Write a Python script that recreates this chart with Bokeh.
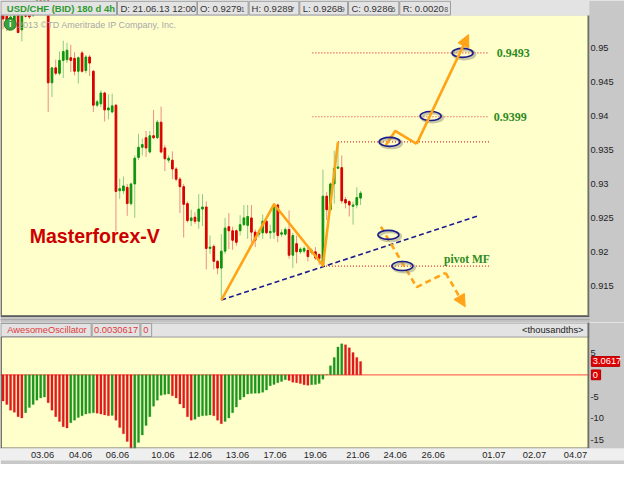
import numpy as np
from bokeh.plotting import figure
from bokeh.models import (Range1d, LinearAxis, FixedTicker, Arrow, NormalHead,
                          ColumnDataSource)
from bokeh.layouts import column
from bokeh.core.properties import value
from bokeh.embed import file_html
from bokeh.resources import INLINE

# ---------------- data (USD/CHF 4h candles) ----------------
open_px = [0.9549, 0.9547, 0.9540, 0.9535, 0.9549, 0.9527, 0.9552, 0.9550, 0.9548, 0.9565,
           0.9575, 0.9565, 0.9580, 0.9449, 0.9471, 0.9463, 0.9482, 0.9483, 0.9486, 0.9485,
           0.9466, 0.9493, 0.9467, 0.9487, 0.9466, 0.9416, 0.9418, 0.9434, 0.9409, 0.9406,
           0.9416, 0.9290, 0.9290, 0.9295, 0.9271, 0.9300, 0.9339, 0.9354, 0.9368, 0.9347,
           0.9371, 0.9368, 0.9391, 0.9353, 0.9335, 0.9335, 0.9322, 0.9307, 0.9296, 0.9271,
           0.9246, 0.9251, 0.9245, 0.9263, 0.9266, 0.9205, 0.9208, 0.9186, 0.9176, 0.9201,
           0.9237, 0.9231, 0.9231, 0.9231, 0.9240, 0.9239, 0.9250, 0.9229, 0.9226, 0.9228,
           0.9245, 0.9228, 0.9229, 0.9269, 0.9226, 0.9226, 0.9233, 0.9195, 0.9212, 0.9200,
           0.9201, 0.9202, 0.9199, 0.9200, 0.9196, 0.9181, 0.9282, 0.9262, 0.9300, 0.9323,
           0.9324, 0.9277, 0.9274, 0.9267, 0.9269, 0.92791]
high_px = [0.9551, 0.9550, 0.9549, 0.9552, 0.9556, 0.9550, 0.9560, 0.9558, 0.9570, 0.9580,
           0.9582, 0.9585, 0.9585, 0.9472, 0.9483, 0.9495, 0.9511, 0.9508, 0.9505, 0.9494,
           0.9488, 0.9496, 0.9490, 0.9490, 0.9468, 0.9424, 0.9438, 0.9436, 0.9432, 0.9433,
           0.9418, 0.9308, 0.9311, 0.9300, 0.9302, 0.9342, 0.9374, 0.9367, 0.9378, 0.9378,
           0.9409, 0.9394, 0.9414, 0.9357, 0.9342, 0.9348, 0.9325, 0.9310, 0.9300, 0.9274,
           0.9262, 0.9258, 0.9285, 0.9285, 0.9274, 0.9224, 0.9211, 0.9188, 0.9226, 0.9250,
           0.9257, 0.9237, 0.9233, 0.9254, 0.9269, 0.9269, 0.9269, 0.9233, 0.9233, 0.9255,
           0.9250, 0.9240, 0.9270, 0.9271, 0.9233, 0.9236, 0.9261, 0.9228, 0.9224, 0.9207,
           0.9208, 0.9209, 0.9205, 0.9207, 0.9198, 0.9321, 0.9288, 0.9302, 0.9349, 0.9362,
           0.9342, 0.9281, 0.9276, 0.9274, 0.9295, 0.92897]
low_px = [0.9528, 0.9525, 0.9535, 0.9530, 0.9522, 0.9510, 0.9545, 0.9543, 0.9546, 0.9560,
          0.9560, 0.9562, 0.9406, 0.9428, 0.9460, 0.9460, 0.9456, 0.9478, 0.9465, 0.9460,
          0.9448, 0.9464, 0.9463, 0.9459, 0.9406, 0.9413, 0.9413, 0.9392, 0.9395, 0.9404,
          0.9230, 0.9278, 0.9285, 0.9253, 0.9268, 0.9250, 0.9335, 0.9342, 0.9340, 0.9345,
          0.9366, 0.9366, 0.9345, 0.9319, 0.9331, 0.9307, 0.9304, 0.9257, 0.9221, 0.9243,
          0.9238, 0.9241, 0.9234, 0.9238, 0.9174, 0.9197, 0.9174, 0.9167, 0.9129, 0.9197,
          0.9204, 0.9203, 0.9209, 0.9224, 0.9238, 0.9219, 0.9214, 0.9207, 0.9221, 0.9219,
          0.9226, 0.9219, 0.9219, 0.9214, 0.9222, 0.9224, 0.9190, 0.9176, 0.9183, 0.9197,
          0.9198, 0.9186, 0.9196, 0.9188, 0.9181, 0.9180, 0.9247, 0.9260, 0.9271, 0.9322,
          0.9271, 0.9264, 0.9252, 0.9240, 0.9264, 0.92689]
close_px = [0.9543, 0.9540, 0.9546, 0.9548, 0.9523, 0.9548, 0.9547, 0.9546, 0.9565, 0.9575,
            0.9565, 0.9580, 0.9449, 0.9471, 0.9463, 0.9482, 0.9495, 0.9497, 0.9482, 0.9466,
            0.9486, 0.9466, 0.9487, 0.9478, 0.9416, 0.9421, 0.9434, 0.9409, 0.9412, 0.9415,
            0.9289, 0.9293, 0.9297, 0.9271, 0.9300, 0.9338, 0.9354, 0.9358, 0.9353, 0.9371,
            0.9368, 0.9391, 0.9347, 0.9337, 0.9338, 0.9322, 0.9307, 0.9296, 0.9270, 0.9246,
            0.9250, 0.9245, 0.9263, 0.9266, 0.9205, 0.9207, 0.9186, 0.9176, 0.9201, 0.9235,
            0.9231, 0.9217, 0.9214, 0.9240, 0.9250, 0.9252, 0.9229, 0.9217, 0.9229, 0.9245,
            0.9228, 0.9230, 0.9269, 0.9224, 0.9228, 0.9233, 0.9195, 0.9224, 0.9200, 0.9204,
            0.9205, 0.9193, 0.9202, 0.9191, 0.9190, 0.9282, 0.9262, 0.9300, 0.9323, 0.9325,
            0.9275, 0.9272, 0.9269, 0.9269, 0.9280, 0.92865]

# Awesome Oscillator, in thousandths
ao_values = [-6.0, -6.8, -8.1, -8.6, -9.6, -9.9, -8.7, -7.5, -6.8, -5.8,
             -5.3, -5.1, -6.4, -8.1, -9.6, -10.7, -11.9, -12.2, -11.0, -10.4,
             -9.8, -9.4, -9.0, -8.8, -8.7, -8.8, -9.0, -9.2, -9.4, -9.3,
             -10.4, -12.1, -13.5, -15.3, -17.5, -17.0, -15.5, -13.8, -11.6, -9.6,
             -7.2, -5.8, -4.7, -4.5, -4.4, -4.8, -5.3, -6.7, -7.6, -9.6,
             -10.4, -10.2, -9.6, -9.4, -9.3, -9.2, -9.4, -10.4, -11.2, -10.7,
             -9.9, -8.7, -7.4, -5.7, -5.1, -4.4, -4.3, -4.25, -4.2, -4.0,
             -3.5, -2.5, -2.2, -1.8, -1.5, -1.1, -1.3, -1.7, -1.8, -2.0,
             -2.3, -2.4, -2.3, -2.2, -2.0, -1.0, 0.1, 2.1, 4.0, 6.4,
             7.1, 6.9, 6.2, 5.1, 4.0, 3.0617]

price_ticks = [0.95, 0.945, 0.94, 0.935, 0.93, 0.925, 0.92, 0.915]
price_tick_labels = ["0.95", "0.945", "0.94", "0.935", "0.93", "0.925", "0.92", "0.915"]
ao_ticks = [5, -5, -10, -15]          # the 0 tick is covered by the red "0" tag
ao_tick_labels = ["5", "-5", "-10", "-15"]
date_ticks = [10.5, 20.6, 30.4, 42.5, 52.4, 62.3, 72.3, 83.0, 94.3, 104.2, 114.3, 130.4, 141.2, 152.1]
date_labels = ["03.06", "04.06", "06.06", "10.06", "12.06", "13.06", "17.06", "19.06",
               "21.06", "24.06", "26.06", "01.07", "02.07", "04.07"]

# analysis drawing (bar index, price)
target_levels = [0.9493, 0.9399]
target_labels = ["0.9493", "0.9399"]
breakout_level = 0.9362
pivot_level = 0.9179
wave_bars = [58, 72, 85, 89]
up_path_x = [101.7, 104.2, 109.9, 123.7]
up_path_y = [0.9357, 0.9378, 0.9359, 0.9520]
down_path_x = [100.4, 109.9, 117.6, 122.8]
down_path_y = [0.9237, 0.9148, 0.9169, 0.9119]
trend_end_x, trend_end_y = 126.3, 0.9253
mark_x = [102.7, 113.6, 122.1, 102.4, 106.1]
mark_y = [0.9362, 0.9400, 0.9493, 0.9225, 0.9179]

# ---------------- styling ----------------
YELLOW = "#FFFFCC"
GRAY_BORDER = "#C8C8C8"
HEAD_GRAY = "#E3E3E3"
BOX_LINE = "#9C9C9C"
RED_BODY, RED_WICK = "#D80000", "#EE8C84"
GREEN_BODY, GREEN_WICK = "#0E940E", "#8CCB84"
AO_RED, AO_GREEN = "#DE1A1A", "#1E951E"
ORANGE = "#FFA317"
NAVY = "#1C1C8E"
DOT_RED = "#E03030"
LABEL_GREEN = "#2E8B22"
FONT = value("Liberation Sans")
SERIF = value("Liberation Serif")
SCALE_COL = "#1E1E1E"

W = 624
H1 = 322
H2 = 142
BB = 16
# reference geometry: bar i is drawn at 2.6 + 3.86*i px of a 640 px wide chart
x_range = Range1d(-2.6 / 3.86, (640 - 2.6) / 3.86)

p1 = figure(width=W, height=H1, x_range=x_range, y_range=Range1d(0.909587, 0.957023),
            output_backend="svg", toolbar_location=None,
            x_axis_location=None, y_axis_location=None, min_border=0,
            background_fill_color=GRAY_BORDER, border_fill_color=GRAY_BORDER,
            outline_line_color=None)
p1.extra_x_ranges = {"px": Range1d(0, 640)}
p1.extra_y_ranges = {"py": Range1d(333, 0)}
p1.grid.grid_line_color = None
PX = dict(x_range_name="px", y_range_name="py")

# yellow chart area
p1.quad(left=[0], right=[604], top=[15.5], bottom=[325.5], fill_color=YELLOW, line_color=None, **PX)

# candles
idx = np.arange(len(open_px))
o = np.array(open_px); c = np.array(close_px)
rise = c >= o
csrc = ColumnDataSource(dict(
    x=idx, h=high_px, l=low_px,
    top=np.maximum(o, c), bot=np.minimum(o, c),
    body=np.where(rise, GREEN_BODY, RED_BODY),
    wick=np.where(rise, GREEN_WICK, RED_WICK)))
p1.segment(x0="x", y0="l", x1="x", y1="h", source=csrc, line_color="wick", line_width=1)
p1.vbar(x="x", top="top", bottom="bot", width=0.45, source=csrc,
        fill_color="body", line_color="body", line_width=1)

# level lines
lvl_y = target_levels + [breakout_level, pivot_level]
lvl_x0 = [82.2, 82.2, wave_bars[3], wave_bars[2]]
p1.segment(x0=lvl_x0, x1=[129.2] * 4, y0=lvl_y, y1=lvl_y,
           line_color=DOT_RED, line_width=1.2, line_dash="1 2")

# trend line
p1.line([wave_bars[0], trend_end_x], [low_px[wave_bars[0]], trend_end_y],
        line_color=NAVY, line_width=1.6, line_dash="5 3")

# wave
wave_y = [low_px[wave_bars[0]], high_px[wave_bars[1]], low_px[wave_bars[2]], high_px[wave_bars[3]]]
p1.line(wave_bars, wave_y, line_color=ORANGE, line_width=2.6, line_join="round")

# forecast paths
p1.line(up_path_x[:-1], up_path_y[:-1], line_color=ORANGE, line_width=2.6, line_join="round")
p1.add_layout(Arrow(x_start=up_path_x[-2], y_start=up_path_y[-2], x_end=up_path_x[-1], y_end=up_path_y[-1],
                    line_color=ORANGE, line_width=2.6,
                    end=NormalHead(size=12, fill_color=ORANGE, line_color=ORANGE)))
p1.line(down_path_x[:-1], down_path_y[:-1], line_color=ORANGE, line_width=2.6, line_dash="6 4")
p1.add_layout(Arrow(x_start=down_path_x[-2], y_start=down_path_y[-2], x_end=down_path_x[-1], y_end=down_path_y[-1],
                    line_color=ORANGE, line_width=2.6, line_dash="6 4",
                    end=NormalHead(size=12, fill_color=ORANGE, line_color=ORANGE)))

# marker ellipses with a soft shadow
p1.ellipse(x=[v + 0.45 for v in mark_x], y=[v - 0.00022 for v in mark_y], width=21, height=9,
           width_units="screen", height_units="screen", fill_color=None,
           line_color="#9A9A80", line_alpha=0.55, line_width=3)
p1.ellipse(x=mark_x, y=mark_y, width=21, height=9, width_units="screen", height_units="screen",
           fill_color=None, line_color=NAVY, line_width=1.6)

# level labels
p1.text(x=[131.2, 130.4], y=target_levels, text=target_labels, text_font=SERIF,
        text_font_style="bold", text_font_size="12px", text_color=LABEL_GREEN, text_baseline="middle")
p1.text(x=[117.2], y=[0.9190], text=["pivot MF"], text_font=SERIF,
        text_font_style="bold", text_font_size="11.5px", text_color=LABEL_GREEN, text_baseline="middle")
p1.text(x=[7.1], y=[0.9224], text=["Masterforex-V"], text_font=FONT, text_font_style="bold",
        text_font_size="19.5px", text_color="#CC0000", text_baseline="middle")

# price scale in the grey margin (positioned by the price scale)
p1.text(x=[605] * len(price_ticks), y=price_ticks, text=price_tick_labels, text_font=FONT,
        text_font_size="9.3px", text_color=SCALE_COL, text_baseline="middle", x_range_name="px")

# ---- chart frame decorations (reference pixel space) ----
p1.text(x=[18], y=[25.5], text=["2013 \u00a9TD Ameritrade IP Company, Inc."], text_font=FONT,
        text_font_size="9px", text_color="#A8A8A8", text_baseline="middle", **PX)
p1.scatter(x=[10], y=[24.5], size=12, marker="circle", fill_color="#3CA03C", line_color="#2A7A2A", **PX)
p1.text(x=[10], y=[24.5], text=["i"], text_font=FONT, text_font_style="bold", text_font_size="9px",
        text_color="white", text_align="center", text_baseline="middle", **PX)

p1.quad(left=[0], right=[604], top=[0], bottom=[15.5], fill_color=HEAD_GRAY, line_color=None, **PX)
box_l = [0.5, 120, 202, 255, 307, 357, 409.5]
box_r = [119, 201.5, 254, 306, 356, 408.5, 461.5]
p1.quad(left=box_l, right=box_r, top=[0.8] * 7, bottom=[15] * 7, fill_color=None,
        line_color=BOX_LINE, line_width=1, **PX)

def split5(v):
    s = f"{v:.5f}"
    return s[:-1], s[-1]

last = len(open_px) - 1
heads = [("O", open_px[last]), ("H", high_px[last]), ("L", low_px[last]), ("C", close_px[last]),
         ("R", high_px[last] - low_px[last])]
head_x = [204.5, 257.5, 310, 360, 412.5]
sub_x = [246.5, 297.5, 349, 401, 455]
p1.text(x=[6.5], y=[7.8], text=["USD/CHF (BID) 180 d 4h"], text_font=FONT, text_font_style="bold",
        text_font_size="9.5px", text_color="#2E9A2E", text_baseline="middle", **PX)
p1.text(x=[123], y=[7.8], text=["D: 21.06.13 12:00"], text_font=FONT,
        text_font_size="9.5px", text_color="#333333", text_baseline="middle", **PX)
p1.text(x=head_x, y=[7.8] * 5, text=[f"{k}: {split5(v)[0]}" for k, v in heads], text_font=FONT,
        text_font_size="9.5px", text_color="#333333", text_baseline="middle", **PX)
p1.text(x=sub_x, y=[9.0] * 5, text=[split5(v)[1] for k, v in heads], text_font=FONT,
        text_font_size="7px", text_color="#555555", text_baseline="middle", **PX)
p1.quad(left=[0], right=[1.3], top=[15.5], bottom=[325.5], fill_color="#4A4A4A", line_color=None, **PX)
p1.quad(left=[602], right=[604], top=[15.5], bottom=[325.5], fill_color="#6E6E6E", line_color=None, **PX)
p1.quad(left=[0], right=[604], top=[325.5], bottom=[327.2], fill_color="#5C5C5C", line_color=None, **PX)
p1.quad(left=[0], right=[604], top=[327.2], bottom=[333], fill_color="#C4C4C4", line_color=None, **PX)
p1.segment(x0=[0], x1=[604], y0=[330], y1=[330], line_color="#8C8C8C", line_dash="1 1", **PX)

# ---------------- oscillator panel ----------------
p2 = figure(width=W, height=H2, x_range=x_range, y_range=Range1d(-16.889, 12.0),
            output_backend="svg", toolbar_location=None,
            x_axis_location=None, y_axis_location=None,
            min_border=0, min_border_bottom=BB,
            background_fill_color=GRAY_BORDER, border_fill_color=GRAY_BORDER,
            outline_line_color=None)
p2.extra_x_ranges = {"px": Range1d(0, 640)}
p2.extra_y_ranges = {"py": Range1d(463, 333)}
p2.grid.grid_line_color = None
PX2 = dict(x_range_name="px", y_range_name="py")

xax2 = LinearAxis(ticker=FixedTicker(ticks=date_ticks),
                  major_label_overrides=dict(zip(date_ticks, date_labels)))
xax2.axis_line_color = None
xax2.major_tick_line_color = None
xax2.minor_tick_line_color = None
xax2.major_tick_out = 0
xax2.major_tick_in = 0
xax2.minor_tick_out = 0
xax2.major_label_standoff = 3
xax2.major_label_text_font = "Liberation Sans"
xax2.major_label_text_font_size = "9.3px"
xax2.major_label_text_color = SCALE_COL
try:
    xax2.background_fill_color = "#EFEFEF"
except Exception:
    pass
p2.add_layout(xax2, "below")

# yellow panel + zero line
p2.quad(left=[0], right=[604], top=[348], bottom=[463], fill_color=YELLOW, line_color=None, **PX2)
p2.segment(x0=[0], x1=[604], y0=[0], y1=[0], x_range_name="px",
           line_color="#FF6A5A", line_width=1.4)

ao = np.array(ao_values)
ao_rise = np.r_[False, ao[1:] > ao[:-1]]
asrc = ColumnDataSource(dict(x=np.arange(len(ao)), top=ao,
                             color=np.where(ao_rise, AO_GREEN, AO_RED)))
p2.vbar(x="x", top="top", bottom=0, width=0.58, source=asrc, fill_color="color",
        line_color="color", line_alpha=0.3, line_width=0.8)

p2.quad(left=[0], right=[604], top=[333], bottom=[348], fill_color=HEAD_GRAY, line_color=None, **PX2)
p2.segment(x0=[0, 0], x1=[604, 604], y0=[333.5, 348], y1=[333.5, 348], line_color=BOX_LINE, **PX2)
p2.quad(left=[0.5, 94, 144], right=[93, 143, 155], top=[334] * 3, bottom=[347.5] * 3,
        fill_color=None, line_color=BOX_LINE, **PX2)
p2.text(x=[7, 96, 146.5], y=[341] * 3, text=["AwesomeOscillator", f"{ao_values[-1] / 1000:.7f}", "0"],
        text_font=FONT, text_font_size="9.3px", text_color="#E03A3A", text_baseline="middle", **PX2)
p2.text(x=[598], y=[341], text=["<thousandths>"], text_font=FONT, text_font_size="9.3px",
        text_color="#222222", text_baseline="middle", text_align="right", **PX2)
p2.quad(left=[0], right=[1.3], top=[348], bottom=[463], fill_color="#4A4A4A", line_color=None, **PX2)
p2.quad(left=[602], right=[604], top=[333], bottom=[463], fill_color="#6E6E6E", line_color=None, **PX2)
p2.quad(left=[0], right=[604], top=[462], bottom=[463], fill_color="#6E6E6E", line_color=None, **PX2)

# oscillator scale labels in the grey margin, placed by the oscillator's y scale
p2.text(x=[605] * len(ao_ticks), y=ao_ticks, text=ao_tick_labels, text_font=FONT,
        text_font_size="9.3px", text_color=SCALE_COL, text_baseline="middle", x_range_name="px")

# value tags in the right margin: last AO value and zero
tag_vals = [ao_values[-1], 0.0]
tag_text = [f"{ao_values[-1]:.4f}", "0"]
p2.quad(left=[606, 606], right=[635, 615.5], top=[v + 1.12 for v in tag_vals],
        bottom=[v - 1.12 for v in tag_vals], fill_color="#E00000", line_color="#B00000",
        x_range_name="px")
p2.text(x=[607.5, 607.5], y=tag_vals, text=tag_text, text_font=FONT, text_font_size="9.3px",
        text_color="white", text_baseline="middle", x_range_name="px")

layout = column(p1, p2, spacing=0)
open("out.html", "w").write(file_html(layout, INLINE))
